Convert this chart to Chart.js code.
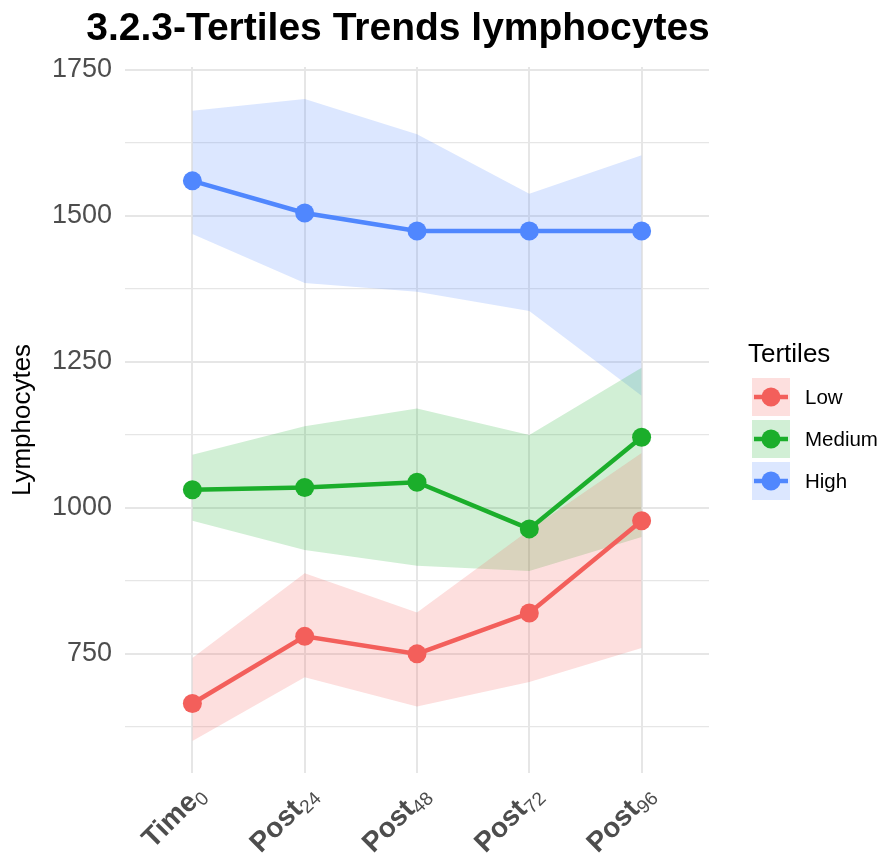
<!DOCTYPE html>
<html>
<head>
<meta charset="utf-8">
<script src="https://cdn.jsdelivr.net/npm/chart.js@4/dist/chart.umd.min.js"></script>
<style>
  html, body { margin: 0; padding: 0; background: #fff; }
  #wrap { width: 881px; height: 859px; }
</style>
</head>
<body>
<div id="wrap"><canvas id="grafico" width="881" height="859"></canvas></div>
<script>
// dados
const tempos = ['Time', 'Post', 'Post', 'Post', 'Post'];
const subscritos = ['0', '24', '48', '72', '96'];
const tertis = ['Low', 'Medium', 'High'];

const mediaLow = [665, 780, 750, 820, 978];
const superiorLow = [743, 888, 821, 962, 1094];
const inferiorLow = [601, 710, 660, 702, 760];

const mediaMedium = [1031, 1035, 1044, 964, 1121];
const superiorMedium = [1091, 1140, 1170, 1125, 1240];
const inferiorMedium = [978, 928, 901, 892, 950];

const mediaHigh = [1560, 1505, 1474, 1474, 1474];
const superiorHigh = [1680, 1700, 1640, 1538, 1604];
const inferiorHigh = [1469, 1385, 1370, 1337, 1192];

const ticksY = [750, 1000, 1250, 1500, 1750];

const cores = ['#F35F5B', '#1BAE2B', '#5087FE'];
const coresFaixa = ['rgba(243, 95, 91, 0.2)', 'rgba(27, 174, 43, 0.2)', 'rgba(80, 135, 254, 0.2)'];

const FONTE = '"Liberation Sans", Arial, Helvetica, sans-serif';

const pontos = (valores) => valores.map((v, i) => ({ x: i, y: v }));

const faixa = (sup, inf, cor) => ([
    { data: pontos(sup), borderWidth: 0, pointRadius: 0, backgroundColor: cor, fill: '+1', order: 10 },
    { data: pontos(inf), borderWidth: 0, pointRadius: 0, fill: false, order: 10 }
]);

const linha = (valores, cor) => ({
    data: pontos(valores),
    borderColor: cor,
    backgroundColor: cor,
    borderWidth: 4.5,
    pointRadius: 9.5,
    pointBorderWidth: 0,
    fill: false,
    order: 1
});

const datasets = [
    ...faixa(superiorLow, inferiorLow, coresFaixa[0]),
    ...faixa(superiorMedium, inferiorMedium, coresFaixa[1]),
    ...faixa(superiorHigh, inferiorHigh, coresFaixa[2]),
    linha(mediaLow, cores[0]),
    linha(mediaMedium, cores[1]),
    linha(mediaHigh, cores[2])
];

// título, rótulos do eixo x com subscrito e legenda
const extras = {
    id: 'extras',
    afterDraw(chart) {
        const c = chart.ctx;
        const xs = chart.scales.x;

        c.save();
        c.fillStyle = '#000';
        c.font = `bold 39px ${FONTE}`;
        c.textAlign = 'center';
        c.textBaseline = 'alphabetic';
        c.fillText('3.2.3-Tertiles Trends lymphocytes', 398, 40);
        c.restore();

        // rótulos rotacionados
        tempos.forEach((t, i) => {
            const x = xs.getPixelForValue(i);
            c.save();
            c.translate(x + 2, 784);
            c.rotate(-Math.PI / 4);
            c.fillStyle = '#4d4d4d';
            c.textBaseline = 'alphabetic';
            c.font = `19px ${FONTE}`;
            const wSub = c.measureText(subscritos[i]).width;
            c.textAlign = 'right';
            c.fillText(subscritos[i], 0, 22);
            c.font = `bold 28px ${FONTE}`;
            c.fillText(t, -wSub, 17);
            c.restore();
        });

        // legenda
        c.save();
        c.fillStyle = '#000';
        c.font = `26px ${FONTE}`;
        c.textAlign = 'left';
        c.textBaseline = 'alphabetic';
        c.fillText('Tertiles', 748, 362);
        tertis.forEach((nome, i) => {
            const y0 = 378 + i * 42;
            c.fillStyle = coresFaixa[i];
            c.fillRect(752, y0, 38, 38);
            c.strokeStyle = cores[i];
            c.lineWidth = 4.5;
            c.beginPath();
            c.moveTo(754, y0 + 19);
            c.lineTo(788, y0 + 19);
            c.stroke();
            c.fillStyle = cores[i];
            c.beginPath();
            c.arc(771, y0 + 19, 9.5, 0, Math.PI * 2);
            c.fill();
            c.fillStyle = '#000';
            c.font = `20.5px ${FONTE}`;
            c.fillText(nome, 805, y0 + 26);
        });
        c.restore();
    }
};

new Chart(document.getElementById('grafico'), {
    type: 'line',
    data: { datasets },
    options: {
        responsive: false,
        animation: false,
        layout: { padding: { top: 67, right: 172, bottom: 0, left: 0 } },
        plugins: {
            legend: { display: false },
            tooltip: { enabled: false },
            filler: { drawTime: 'beforeDatasetsDraw' }
        },
        scales: {
            x: {
                type: 'linear',
                min: -0.6,
                max: 4.6,
                afterBuildTicks: (s) => { s.ticks = subscritos.map((_, i) => ({ value: i })); },
                afterFit: (s) => { s.height = 86; },
                ticks: { display: false },
                grid: { color: '#e6e6e6', lineWidth: 2, drawTicks: false },
                border: { display: false }
            },
            y: {
                min: 546,
                max: 1755,
                afterBuildTicks: (s) => {
                    const t = [];
                    for (let v = 625; v <= 1750; v += 125) t.push({ value: v });
                    s.ticks = t;
                },
                afterFit: (s) => { s.width = 125; },
                ticks: {
                    padding: 13,
                    color: '#4d4d4d',
                    font: { family: FONTE, size: 27 },
                    callback: (v) => ticksY.includes(v) ? String(v) : ''
                },
                grid: {
                    color: '#e6e6e6',
                    lineWidth: (ctx) => ticksY.includes(ctx.tick && ctx.tick.value) ? 2 : 1.2,
                    drawTicks: false
                },
                border: { display: false },
                title: {
                    display: true,
                    text: 'Lymphocytes',
                    color: '#000',
                    font: { family: FONTE, size: 26 },
                    padding: { top: 7, bottom: 0 }
                }
            }
        }
    },
    plugins: [extras]
});
</script>
</body>
</html>
